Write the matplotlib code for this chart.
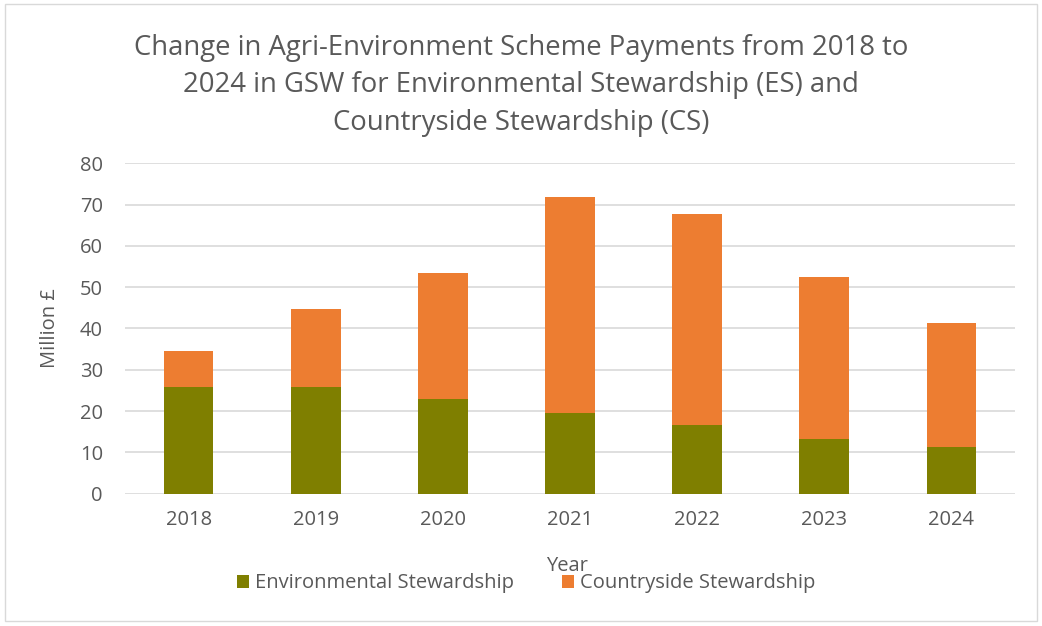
import matplotlib.pyplot as plt
from matplotlib.patches import Rectangle
import numpy as np

# Agri-environment scheme payments, million £
years = ['2018', '2019', '2020', '2021', '2022', '2023', '2024']
es_payments = [25.8, 25.8, 22.9, 19.5, 16.6, 13.2, 11.2]
cs_payments = [8.7, 18.9, 30.5, 52.4, 51.0, 39.3, 30.1]

plt.rcParams['font.family'] = ['Open Sans', 'DejaVu Sans']
grey = '#595959'

fig = plt.figure(figsize=(10.42, 6.26), dpi=100)
fig.patches.append(Rectangle((0.005, 0.008), 0.99, 0.985, transform=fig.transFigure,
                             fill=False, edgecolor='#d9d9d9', linewidth=1))

ax = fig.add_axes([0.12, 0.2113, 0.854, 0.528])
x = np.arange(len(years))
ax.bar(x, es_payments, width=0.39, color='#7f7f00', label='Environmental Stewardship', zorder=3)
ax.bar(x, cs_payments, width=0.39, bottom=es_payments, color='#ed7d31',
       label='Countryside Stewardship', zorder=3)

ax.set_xlim(-0.5, len(years) - 0.5)
ax.set_ylim(0, 80)
ax.set_yticks(range(0, 81, 10))
ax.set_xticks(x)
ax.set_xticklabels(years)
ax.yaxis.grid(True, color='#d9d9d9', linewidth=1.2, zorder=0)
for s in ax.spines.values():
    s.set_visible(False)
ax.tick_params(length=0, labelsize=14.5, colors=grey, pad=12)
ax.tick_params(axis='y', pad=16)

ax.set_ylabel('Million £', fontsize=14.5, color=grey, labelpad=14)
fig.text(0.544, 0.096, 'Year', fontsize=14.5, color=grey, ha='center', va='center')

fig.text(0.5, 0.864,
         'Change in Agri-Environment Scheme Payments from 2018 to\n'
         '2024 in GSW for Environmental Stewardship (ES) and\n'
         'Countryside Stewardship (CS)',
         fontsize=19.8, color=grey, ha='center', va='center', linespacing=1.45)

fig.legend(loc='center', bbox_to_anchor=(0.505, 0.068), ncol=2, frameon=False,
           fontsize=14.5, labelcolor=grey, handlelength=0.6, handleheight=0.6,
           handletextpad=0.3, columnspacing=2.4)

fig.savefig('out.png', dpi=100)
